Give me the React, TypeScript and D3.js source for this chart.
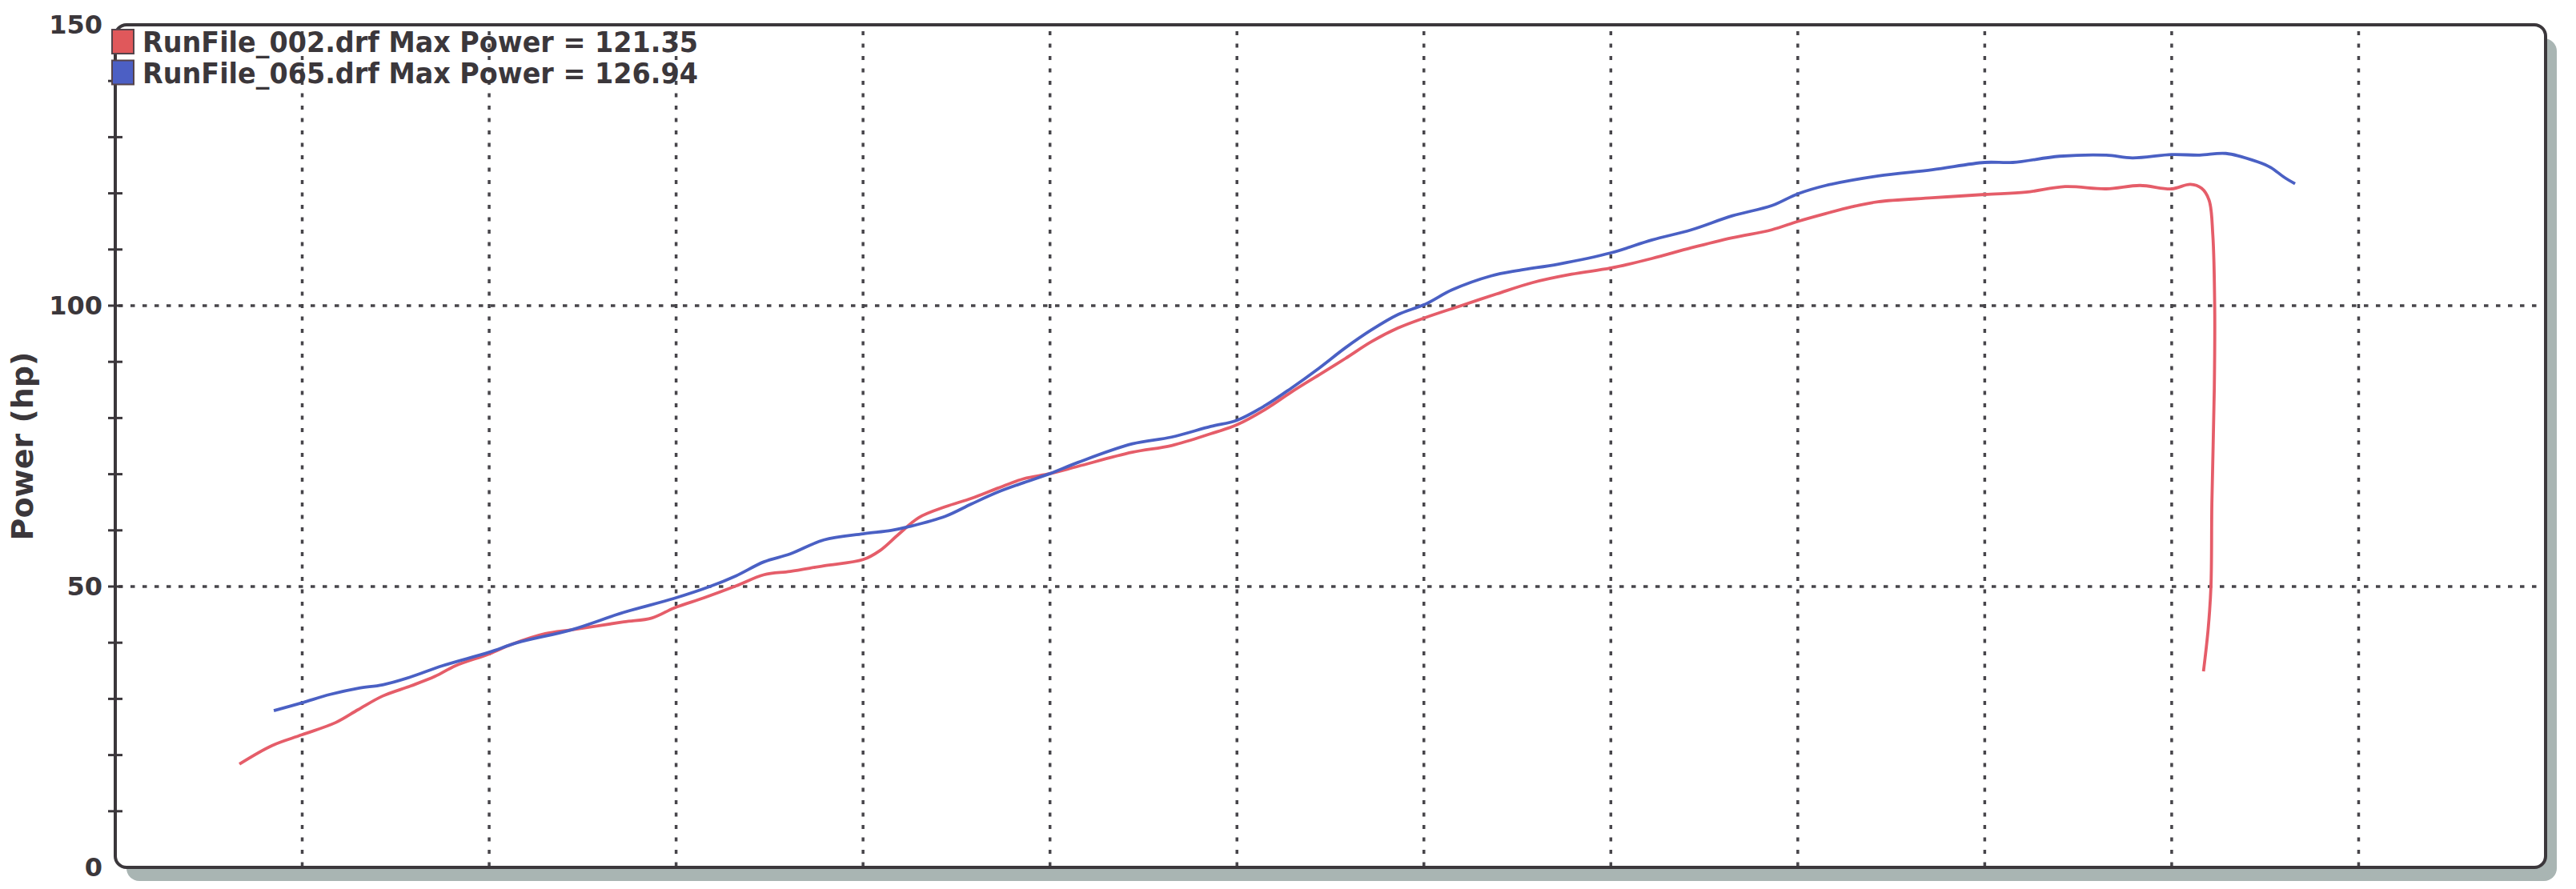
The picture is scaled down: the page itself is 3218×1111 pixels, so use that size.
import React from "react";
import * as d3 from "d3";

// ---- data (x in grid units of the unlabeled horizontal axis, y in hp) ----
const redX = [0.664,0.839,0.998,1.18,1.30,1.43,1.58,1.71,1.82,2.00,2.12,2.30,2.44,2.72,2.87,2.99,3.15,3.32,3.47,3.61,3.79,4.00,4.09,4.19,4.30,4.44,4.58,4.72,4.86,5.00,5.15,5.44,5.65,5.86,6.00,6.15,6.29,6.44,6.58,6.72,6.86,7.01,7.19,7.39,7.58,7.79,8.00,8.22,8.43,8.65,8.86,9.00,9.15,9.29,9.43,9.72,10.00,10.22,10.43,10.65,10.83,11.00,11.10,11.16,11.20,11.22,11.23,11.228,11.215,11.21,11.195,11.17];
const redHp = [18.4,21.7,23.6,25.8,28.1,30.5,32.3,34.0,35.9,38.0,39.7,41.6,42.3,43.7,44.4,46.2,48.0,50.1,52.1,52.7,53.7,54.8,56.4,59.3,62.3,64.2,65.7,67.5,69.2,70.1,71.4,73.9,75.1,77.2,78.8,81.5,84.6,87.7,90.6,93.6,96.0,97.9,99.9,102.1,104.1,105.6,106.7,108.4,110.3,112.1,113.5,115.0,116.4,117.6,118.5,119.2,119.8,120.2,121.2,120.8,121.4,120.8,121.6,120.9,118.8,112.6,100,85.3,64.9,50,42.4,34.9];

const blueX = [0.848,0.998,1.15,1.30,1.43,1.58,1.75,2.00,2.15,2.44,2.72,2.99,3.18,3.32,3.47,3.61,3.79,4.00,4.15,4.25,4.44,4.58,4.72,4.86,5.00,5.15,5.44,5.65,5.86,6.00,6.15,6.29,6.44,6.58,6.72,6.86,7.01,7.15,7.36,7.51,7.72,8.00,8.22,8.43,8.65,8.86,9.00,9.15,9.43,9.72,10.00,10.15,10.40,10.65,10.79,11.00,11.15,11.29,11.46,11.53,11.60,11.66];
const blueHp = [27.9,29.3,30.8,31.9,32.5,33.9,35.9,38.3,40.0,42.3,45.4,47.9,50.0,51.9,54.4,55.8,58.3,59.4,60.0,60.7,62.5,64.7,66.8,68.5,70.1,72.1,75.4,76.6,78.5,79.6,82.2,85.3,88.9,92.5,95.7,98.4,100.3,102.8,105.3,106.3,107.4,109.4,111.7,113.5,116.0,117.8,119.9,121.4,123.1,124.2,125.5,125.5,126.6,126.8,126.3,126.9,126.8,127.1,125.6,124.6,122.9,121.7];

const legendNames = ["RunFile_002.drf Max Power = 121.35", "RunFile_065.drf Max Power = 126.94"];
const seriesColors = ["#e55d69", "#4a60c4"];
const swatchColors = ["#e0585b", "#4c5fc4"];

const yMajorTicks = [0, 50, 100, 150];
const yMinorTicks = [10, 20, 30, 40, 60, 70, 80, 90, 110, 120, 130, 140];
const xGridLines = [1, 2, 3, 4, 5, 6, 7, 8, 9, 10, 11, 12];
const yGridLines = [50, 100];

const W = 3218, H = 1111;
const L = 144, R = 3180, T = 31, B = 1084;

export default function App() {
  const x = d3.scaleLinear().domain([0, 13]).range([L, R]);
  const y = d3.scaleLinear().domain([0, 150]).range([B, T]);
  const line = d3.line<[number, number]>()
    .x((d) => x(d[0]))
    .y((d) => y(d[1]))
    .curve(d3.curveCatmullRom.alpha(0.5));
  const red = redX.map((v, i) => [v, redHp[i]] as [number, number]);
  const blue = blueX.map((v, i) => [v, blueHp[i]] as [number, number]);
  const ink = "#3b373b";
  const gridColor = "#47454a";
  const font = "'DejaVu Sans', Verdana, sans-serif";
  const condensed = "'DejaVu Sans Condensed', 'DejaVu Sans', sans-serif";

  return (
    <svg width={W} height={H} style={{ position: "absolute", left: 0, top: 0, background: "#fff" }}>
      {/* shadow */}
      <rect x={L + 14} y={T + 17} width={R - L} height={B - T} rx={16} fill="#a9b5b3" />
      {/* frame fill */}
      <rect x={L} y={T} width={R - L} height={B - T} rx={14} fill="#fff" />
      {/* grid */}
      {xGridLines.map((g) => (
        <line key={"vx" + g} x1={x(g)} x2={x(g)} y1={T + 8} y2={B - 2}
          stroke={gridColor} strokeWidth={3.5} strokeDasharray="5 10.5" />
      ))}
      {yGridLines.map((g) => (
        <line key={"hy" + g} x1={L + 4} x2={R - 6} y1={y(g)} y2={y(g)}
          stroke={gridColor} strokeWidth={3.5} strokeDasharray="5.5 9.5" />
      ))}
      {/* frame stroke */}
      <rect x={L} y={T} width={R - L} height={B - T} rx={14} fill="none" stroke={ink} strokeWidth={4} />
      {/* ticks */}
      {yMinorTicks.concat([50, 100]).map((t) => (
        <line key={"t" + t} x1={L - 9} x2={L + 9} y1={y(t)} y2={y(t)} stroke={ink} strokeWidth={3} />
      ))}
      {yMajorTicks.map((t) => (
        <text key={"l" + t} x={L - 16} y={y(t)} textAnchor="end" dominantBaseline="central"
          fontFamily={font} fontWeight="bold" fontSize={32} fill={ink}>{t}</text>
      ))}
      <text transform={`translate(41, ${(T + B) / 2}) rotate(-90)`} textAnchor="middle"
        fontFamily={font} fontWeight="bold" fontSize={38} fill={ink}>Power (hp)</text>
      {/* curves */}
      <path d={line(red) || ""} fill="none" stroke={seriesColors[0]} strokeWidth={3.8} strokeLinejoin="round" />
      <path d={line(blue) || ""} fill="none" stroke={seriesColors[1]} strokeWidth={3.8} strokeLinejoin="round" />
      {/* legend */}
      {legendNames.map((name, i) => (
        <g key={name}>
          <rect x={140} y={37 + i * 38.5} width={27} height={30} fill={swatchColors[i]} stroke="#55434a" strokeWidth={2} />
          <text x={178} y={65 + i * 39} fontFamily={condensed} fontWeight="bold" fontSize={36}
            textLength={694} lengthAdjust="spacingAndGlyphs" fill={ink}>{name}</text>
        </g>
      ))}
    </svg>
  );
}
